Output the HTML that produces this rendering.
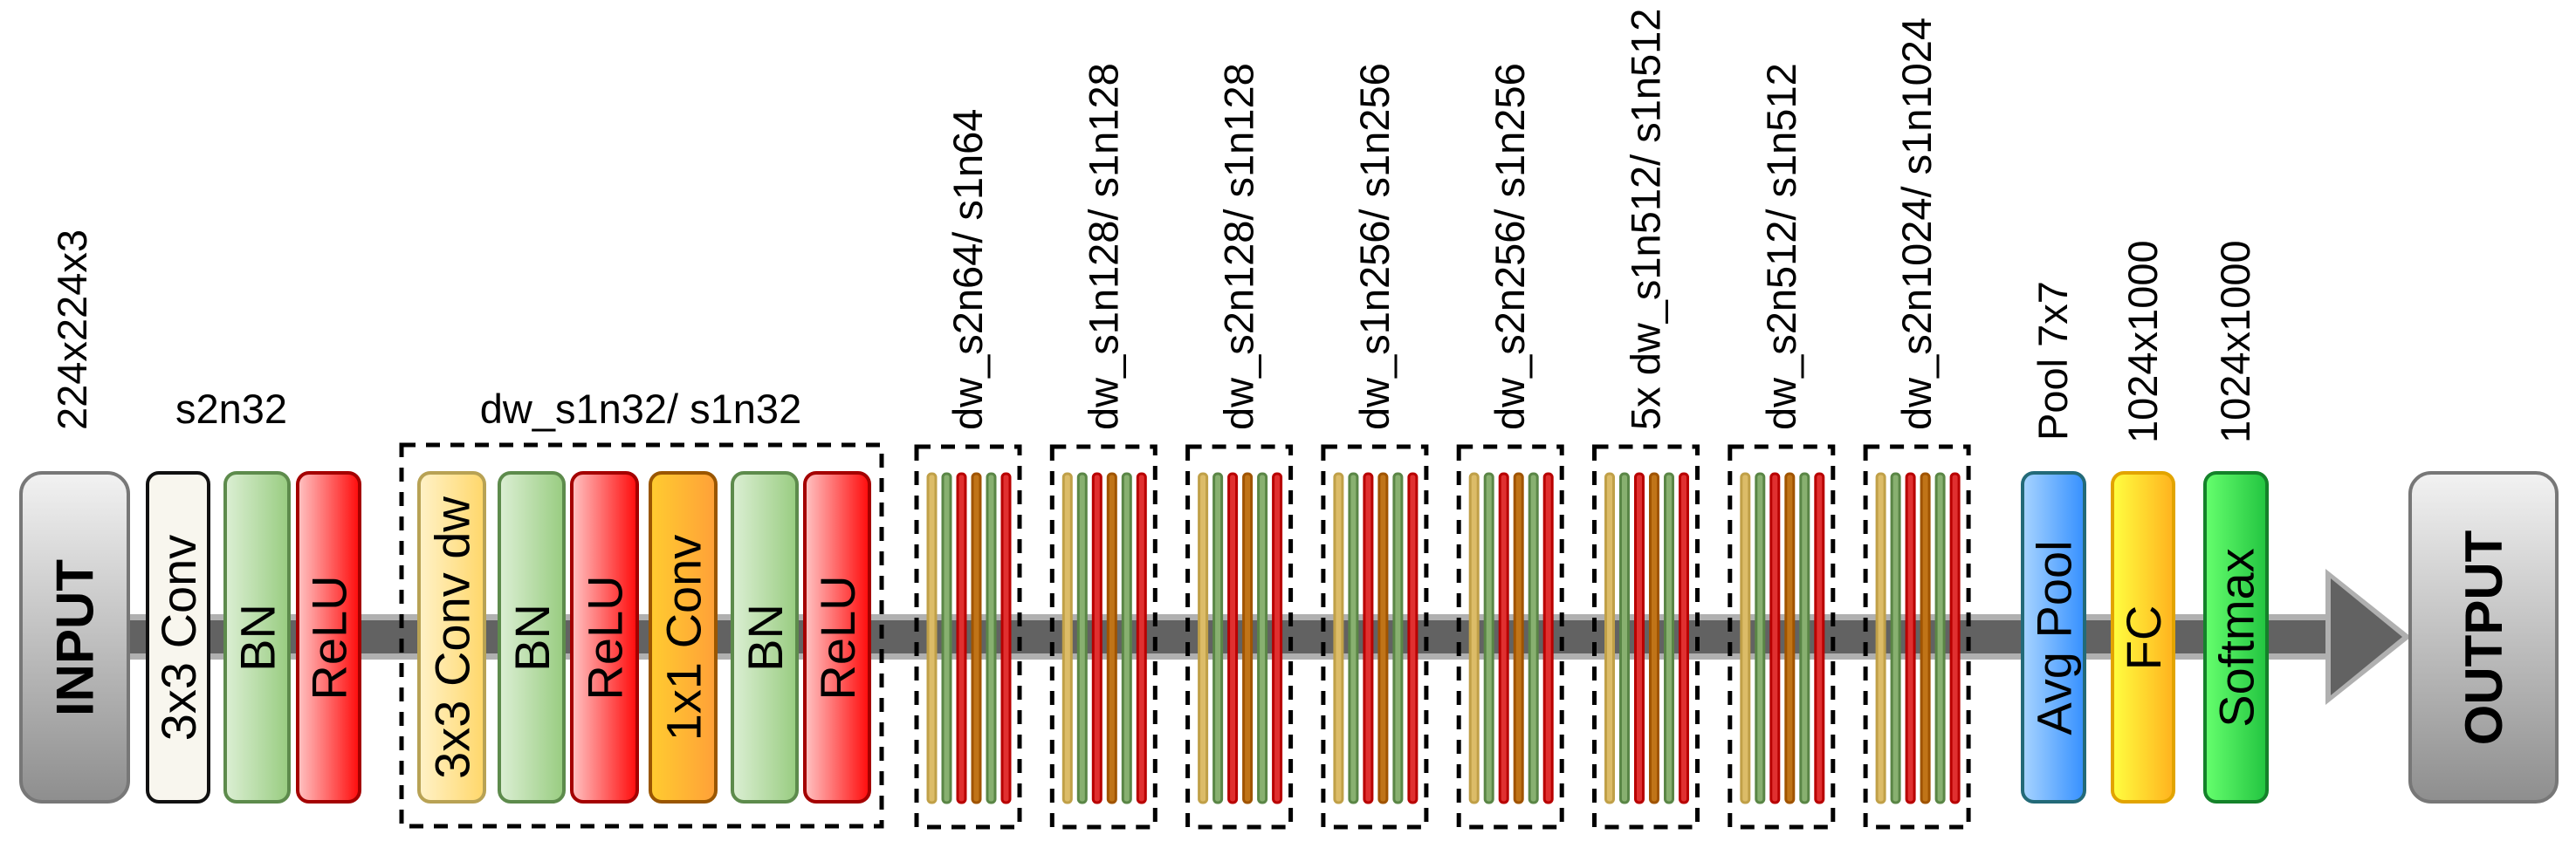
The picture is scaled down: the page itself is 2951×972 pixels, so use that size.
<!DOCTYPE html>
<html><head><meta charset="utf-8"><style>
html,body{margin:0;padding:0;background:#fff;}
svg{display:block;}
text{font-family:"Liberation Sans",Arial,sans-serif;}
</style></head><body>
<svg id="fig" xmlns="http://www.w3.org/2000/svg" width="2951" height="972" viewBox="0 0 2951 972">
<defs>
<linearGradient id="gGray" x1="0" y1="0" x2="0" y2="1"><stop offset="0" stop-color="#f2f2f2"/><stop offset="1" stop-color="#8e8e8e"/></linearGradient>
<linearGradient id="gGreen" x1="0" y1="0" x2="1" y2="0"><stop offset="0" stop-color="#dcefd4"/><stop offset="1" stop-color="#98cc80"/></linearGradient>
<linearGradient id="gRed" x1="0" y1="0" x2="1" y2="0"><stop offset="0" stop-color="#ffc4c4"/><stop offset="1" stop-color="#ff0a0a"/></linearGradient>
<linearGradient id="gLtYel" x1="0" y1="0" x2="1" y2="0"><stop offset="0" stop-color="#fff2c8"/><stop offset="1" stop-color="#ffd76a"/></linearGradient>
<linearGradient id="gOrange" x1="0" y1="0" x2="1" y2="0"><stop offset="0" stop-color="#ffcc30"/><stop offset="1" stop-color="#ffa038"/></linearGradient>
<linearGradient id="gBlue" x1="0" y1="0" x2="1" y2="0"><stop offset="0" stop-color="#a8d4ff"/><stop offset="1" stop-color="#3590ff"/></linearGradient>
<linearGradient id="gYellow" x1="0" y1="0" x2="1" y2="0"><stop offset="0" stop-color="#ffff40"/><stop offset="1" stop-color="#ffb21e"/></linearGradient>
<linearGradient id="gLime" x1="0" y1="0" x2="1" y2="0"><stop offset="0" stop-color="#66ff6e"/><stop offset="1" stop-color="#22c440"/></linearGradient>
</defs>
<g id="shaft">
<rect x="147" y="704" width="2522" height="52" fill="#b0b0b0"/>
<rect x="147" y="711" width="2522" height="38" fill="#626262"/>
<polygon points="2664,652 2762,730 2664,808" fill="#b0b0b0"/>
<polygon points="2670,663 2752,730 2670,797" fill="#626262"/>
</g>
<g id="layers"></g>
</svg>
<script>
const NS='http://www.w3.org/2000/svg';
const svg=document.getElementById('layers');
function mk(tag,attrs,parent){const e=document.createElementNS(NS,tag);for(const k in attrs)e.setAttribute(k,attrs[k]);(parent||svg).appendChild(e);return e;}
const bigLabels=['INPUT','3x3 Conv','BN','ReLU','3x3 Conv dw','BN','ReLU','1x1 Conv','BN','ReLU','Avg Pool','FC','Softmax','OUTPUT'];
const bigX=[24,169,258,341,480,572,655,745,839,922,2317,2420,2526,2761];
const bigW=[123,70,73,71,75,74,75,75,74,74,71,70,71,168];
const bigFill=['url(#gGray)','#f8f6ee','url(#gGreen)','url(#gRed)','url(#gLtYel)','url(#gGreen)','url(#gRed)','url(#gOrange)','url(#gGreen)','url(#gRed)','url(#gBlue)','url(#gYellow)','url(#gLime)','url(#gGray)'];
const bigStroke=['#777','#111','#5d8b4c','#a40000','#b8a254','#5d8b4c','#a40000','#9a5600','#5d8b4c','#a40000','#236a78','#e2a400','#14822a','#777'];
for(let i=0;i<bigLabels.length;i++){
  const g=mk('g',{});
  
  
  const tall=(i===0||i===13);
  mk('rect',{x:bigX[i],y:542,width:bigW[i],height:377,rx:tall?24:13,fill:bigFill[i],stroke:bigStroke[i],'stroke-width':4},g);
  const cx=bigX[i]+bigW[i]/2, cy=731;
  const t=mk('text',{x:0,y:0,transform:`translate(${cx+(tall?21:20)},${cy}) rotate(-90)`,'text-anchor':'middle','font-size':tall?60:56,'font-weight':tall?'bold':'normal',fill:'#000'},g);
  t.textContent=bigLabels[i];
}
const stackLabels=['dw_s2n64/ s1n64','dw_s1n128/ s1n128','dw_s2n128/ s1n128','dw_s1n256/ s1n256','dw_s2n256/ s1n256','5x dw_s1n512/ s1n512','dw_s2n512/ s1n512','dw_s2n1024/ s1n1024'];
const barFill=['#dcbc68','#88b070','#e03030','#c07418','#88b070','#e03030'];
const barStroke=['#c0a048','#5a8646','#b80000','#a05400','#5a8646','#b80000'];
for(let b=0;b<stackLabels.length;b++){
  const x0=1050+b*155.3;
  const g=mk('g',{});
  
  
  mk('rect',{x:x0,y:512,width:118,height:436,fill:'none',stroke:'#000','stroke-width':5,'stroke-dasharray':'16 12'},g);
  for(let k=0;k<6;k++){
    mk('rect',{x:x0+13+k*17,y:543,width:9,height:377,rx:4,fill:barFill[k],stroke:barStroke[k],'stroke-width':3},g);
  }
  const t=mk('text',{transform:`translate(${x0+59+16},493) rotate(-90)`,'font-size':47,fill:'#000'},g);
  
  
  t.textContent=stackLabels[b];
}
const gb=mk('g',{});


mk('rect',{x:460,y:510,width:550,height:437,fill:'none',stroke:'#000','stroke-width':5,'stroke-dasharray':'16 12'},gb);
const rotLabels=['224x224x3','Pool 7x7','1024x1000','1024x1000'];
const rotX=[83,2352,2455,2561];
const rotY=[493,505,508,508];
for(let i=0;i<rotLabels.length;i++){
  const t=mk('text',{transform:`translate(${rotX[i]+16},${rotY[i]}) rotate(-90)`,'font-size':47,fill:'#000'});
  
  
  t.textContent=rotLabels[i];
}
const h1=mk('text',{x:265,y:485,'text-anchor':'middle','font-size':47,fill:'#000'});


h1.textContent='s2n32';
const h2=mk('text',{x:734,y:485,'text-anchor':'middle','font-size':47,fill:'#000'});


h2.textContent='dw_s1n32/ s1n32';
</script>
</body></html>
